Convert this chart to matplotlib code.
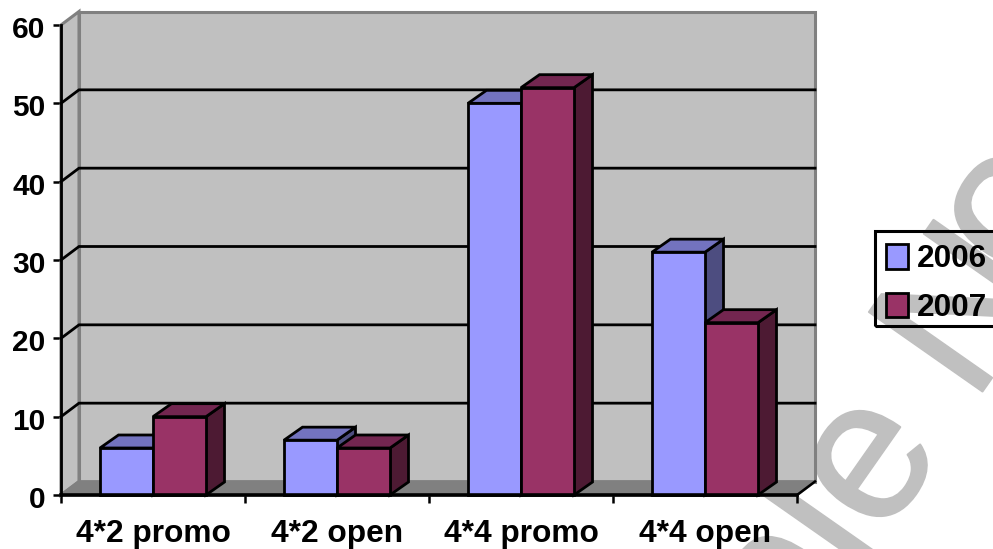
import matplotlib
matplotlib.use("Agg")
import matplotlib.pyplot as plt
import matplotlib.patheffects as pe
from matplotlib.patches import Polygon, Patch, Rectangle
from matplotlib.transforms import ScaledTranslation

plt.rcParams['font.family'] = ['Liberation Sans', 'DejaVu Sans']
plt.rcParams['font.weight'] = 'bold'

categories = ['4*2 promo', '4*2 open', '4*4 promo', '4*4 open']
values_2006 = [6, 7, 50, 31]
values_2007 = [10, 6, 52, 22]
series_names = ['2006', '2007']
y_ticks = [0, 10, 20, 30, 40, 50, 60]

W, H = 993, 549
fig = plt.figure(figsize=(W / 100, H / 100), dpi=100)
ax = fig.add_axes([61 / W, 1 - 495 / H, 736 / W, 470 / H])
ax.patch.set_visible(False)
ax.set_xlim(0, 4)
ax.set_ylim(0, 60)
for s in ax.spines.values():
    s.set_visible(False)

# how far the fake 3d depth goes, in data units
wall_dx = 18 / 184
wall_dy = 13.5 / (470 / 60)
bar_dx = 18.5 / 184
bar_dy = 13 / (470 / 60)
bar_w = 53 / 184

GREY = '#c0c0c0'
EDGE = '#808080'


def poly(points, face, edge='black', lw=2.0, z=2):
    ax.add_patch(Polygon(points, closed=True, facecolor=face, edgecolor=edge,
                         linewidth=lw, joinstyle='miter', clip_on=False, zorder=z))


# walls and floor
poly([(0, 0), (wall_dx, wall_dy), (wall_dx, 60 + wall_dy), (0, 60)], GREY, EDGE, lw=2.2)
poly([(wall_dx, wall_dy), (4 + wall_dx, wall_dy), (4 + wall_dx, 60 + wall_dy), (wall_dx, 60 + wall_dy)], GREY, EDGE, lw=2.2)
poly([(0, 0), (4, 0), (4 + wall_dx, wall_dy), (wall_dx, wall_dy)], EDGE, EDGE)

for t in y_ticks[1:-1]:
    ax.plot([0, wall_dx, 4 + wall_dx], [t, t + wall_dy, t + wall_dy], color='black', lw=2.0,
            clip_on=False, zorder=3, solid_joinstyle='miter')
ax.plot([4, 4 + wall_dx], [0, wall_dy], color='black', lw=1.8, clip_on=False, zorder=3)


def bar3d(x, v, front, top, side):
    poly([(x + bar_w, 0), (x + bar_w + bar_dx, bar_dy), (x + bar_w + bar_dx, v + bar_dy), (x + bar_w, v)], side, z=4)
    poly([(x, v), (x + bar_w, v), (x + bar_w + bar_dx, v + bar_dy), (x + bar_dx, v + bar_dy)], top, z=4)
    poly([(x, 0), (x + bar_w, 0), (x + bar_w, v), (x, v)], front, z=4)


for i in range(len(categories)):
    left = i + 0.5 - bar_w
    bar3d(left, values_2006[i], '#9999ff', '#7373bf', '#4d4d80')
    bar3d(left + bar_w, values_2007[i], '#993366', '#732650', '#4d1a33')

# axes lines on top
ax.plot([0, 0], [0, 60], color='black', lw=2.0, clip_on=False, zorder=6)
ax.plot([0, 4], [0, 0], color='black', lw=2.6, clip_on=False, zorder=6)

ax.set_yticks(y_ticks)
ax.set_xticks([0, 1, 2, 3, 4])
ax.set_xticklabels([])
ax.set_xticks([0.5, 1.5, 2.5, 3.5], minor=True)
ax.set_xticklabels(categories, minor=True, fontsize=22.8, fontweight='bold')
ax.tick_params(axis='x', which='minor', length=0, pad=17.5)
ax.tick_params(axis='x', which='major', length=5.5, width=1.8)
ax.tick_params(axis='y', length=5.5, width=1.8, pad=5.5, labelsize=21.5)
shift = ScaledTranslation(0, -2 / 100, fig.dpi_scale_trans)
for lab in ax.get_yticklabels():
    lab.set_fontweight('bold')
    lab.set_transform(lab.get_transform() + shift)

# watermark sits behind the (transparent) axes
for word, px, py, align in [('Sample', 946, 448, 'right'), ('N', 973, 405, 'left'), ('o', 1022, 288, 'left')]:
    wm = fig.text(px / W, 1 - py / H, word, fontsize=145, color=GREY, rotation=55, fontweight='normal',
                  rotation_mode='anchor', ha=align, va='baseline', zorder=-1)
    wm.set_path_effects([pe.withStroke(linewidth=1.5, foreground=GREY)])

handles = [Patch(facecolor='#9999ff', edgecolor='black', linewidth=2.0),
           Patch(facecolor='#993366', edgecolor='black', linewidth=2.0)]
leg = fig.legend(handles, series_names, loc='upper left', bbox_to_anchor=(873 / W, 1 - 231 / H),
                 borderaxespad=0, frameon=False, labelspacing=0.58, handlelength=0.68, handleheight=0.8,
                 handletextpad=0.27, borderpad=0.42, prop={'weight': 'bold', 'size': 22.8})
# box runs off the right side of the picture, like the original
fig.add_artist(Rectangle((875 / W, 1 - 326 / H), 130 / W, 95 / H, transform=fig.transFigure,
                         fill=False, edgecolor='black', linewidth=2.2, zorder=5))

fig.savefig('out.png', dpi=100)
